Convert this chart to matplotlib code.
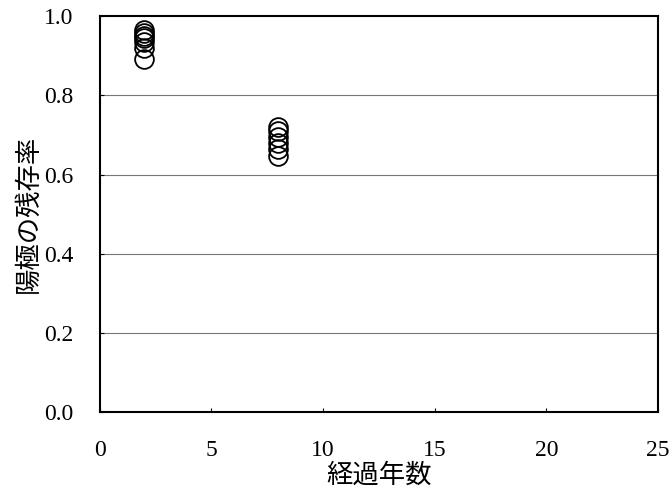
import matplotlib
matplotlib.use("Agg")
import matplotlib.pyplot as plt

# elapsed years and anode survival ratio
years_2 = [2, 2, 2, 2, 2, 2, 2]
ratio_2 = [0.965, 0.958, 0.950, 0.945, 0.935, 0.920, 0.893]
years_8 = [8, 8, 8, 8, 8, 8]
ratio_8 = [0.720, 0.710, 0.695, 0.680, 0.665, 0.648]

xticks = [0, 5, 10, 15, 20, 25]
yticks = [0.0, 0.2, 0.4, 0.6, 0.8, 1.0]

serif = "Liberation Serif"
cjk = ["Noto Sans CJK JP", "DejaVu Sans"]

fig = plt.figure(figsize=(6.7, 4.91), dpi=100)
ax = fig.add_axes([0.149, 0.161, 0.833, 0.806])

for y in yticks[1:-1]:
    ax.axhline(y, color="#777777", linewidth=0.8, zorder=0)

ax.plot(years_2, ratio_2, "o", mfc="none", mec="black", ms=13.5, mew=1.3)
ax.plot(years_8, ratio_8, "o", mfc="none", mec="black", ms=13.5, mew=1.3)

ax.set_xlim(0, 25)
ax.set_ylim(0, 1.0)
ax.set_xticks(xticks)
ax.set_yticks(yticks)
ax.set_yticklabels([f"{v:.1f}" for v in yticks])
ax.tick_params(direction="in", length=3, width=0.8)
ax.tick_params(axis="x", pad=20)
ax.tick_params(axis="y", pad=19)
for lab in ax.get_xticklabels() + ax.get_yticklabels():
    lab.set_fontfamily(serif)
    lab.set_fontsize(17)

for s in ax.spines.values():
    s.set_linewidth(1.5)

ax.set_xlabel("経過年数", family=cjk, fontsize=19, labelpad=1)
ax.set_ylabel("陽極の残存率", family=cjk, fontsize=19, labelpad=2)

fig.savefig("out.png", dpi=100)
